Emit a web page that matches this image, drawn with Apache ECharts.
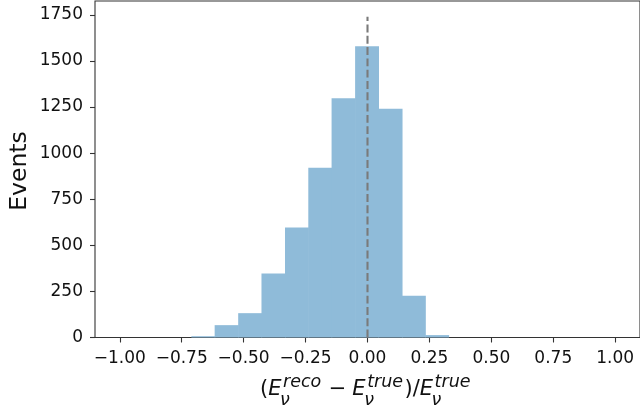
<!DOCTYPE html>
<html>
<head>
<meta charset="utf-8">
<script src="https://cdn.jsdelivr.net/npm/echarts@6/dist/echarts.min.js"></script>
<style>
html,body{margin:0;padding:0;background:#fff;}
#chart{width:640px;height:415px;}
</style>
</head>
<body>
<div id="chart"></div>
<script>
// ---- data ----
const binStarts = [-0.711, -0.617, -0.522, -0.428, -0.333, -0.239, -0.145, -0.050, 0.044, 0.139, 0.233];
const binEnds   = [-0.617, -0.522, -0.428, -0.333, -0.239, -0.145, -0.050, 0.044, 0.139, 0.233, 0.327];
const counts    = [7, 67, 132, 347, 596, 921, 1297, 1580, 1241, 226, 13];
const refLineX  = [0, 0];
const refLineY  = [0, 1740];
const xTicks    = [-1.00, -0.75, -0.50, -0.25, 0.00, 0.25, 0.50, 0.75, 1.00];
const yTicks    = [0, 250, 500, 750, 1000, 1250, 1500, 1750];
const yLabel    = 'Events';

const FONT = '"DejaVu Sans", "Liberation Sans", sans-serif';
const chart = echarts.init(document.getElementById('chart'), null, {renderer: 'canvas'});

// measure helper for the math-style x label
const mctx = document.createElement('canvas').getContext('2d');
function tw(t, size, italic) {
  mctx.font = (italic ? 'italic ' : '') + size + 'px ' + FONT;
  return mctx.measureText(t).width;
}
const MAIN = 21, SCR = 17.5;
const pieces = [
  {t: '(', i: false},
  {t: 'E', i: true}, {sup: 'reco', sub: 'ν'},
  {gap: 6}, {t: '−', i: false}, {gap: 6},
  {t: 'E', i: true}, {sup: 'true', sub: 'ν'},
  {t: ')/', i: false},
  {t: 'E', i: true}, {sup: 'true', sub: 'ν'}
];
function layoutLabel() {
  let x = 0; const out = [];
  pieces.forEach(p => {
    if (p.gap) { x += p.gap; return; }
    if (p.t) {
      out.push({text: p.t, x: x, size: MAIN, i: p.i, kind: 'main'});
      x += tw(p.t, MAIN, p.i);
    } else {
      const ws = tw(p.sup, SCR, true) + 1.5, wb = tw(p.sub, SCR, true);
      out.push({text: p.sup, x: x + 1.5, size: SCR, i: true, kind: 'sup'});
      out.push({text: p.sub, x: x - 1.5, size: SCR, i: true, kind: 'sub'});
      x += Math.max(ws, wb) + 1.5;
    }
  });
  return {items: out, width: x};
}
const lab = layoutLabel();
const cx = 368, baseMain = 395.5, baseSup = 387.5, baseSub = 405.5;
const startX = cx - lab.width / 2 - 2;
const graphics = lab.items.map(it => {
  const base = it.kind === 'main' ? baseMain : (it.kind === 'sup' ? baseSup : baseSub);
  return {
    type: 'text',
    x: startX + it.x,
    y: base - 0.3 * it.size,
    silent: true,
    style: {
      text: it.text,
      font: (it.i ? 'italic ' : '') + it.size + 'px ' + FONT,
      fill: '#111',
      align: 'left',
      verticalAlign: 'middle'
    }
  };
});
graphics.push({
  type: 'text',
  x: 19.5, y: 171,
  rotation: Math.PI / 2,
  silent: true,
  style: {
    text: yLabel,
    font: '23.5px ' + FONT,
    fill: '#111',
    align: 'center',
    verticalAlign: 'middle'
  }
});

const histData = binStarts.map((s, i) => [s, binEnds[i], counts[i]]);
const refData = refLineX.map((x, i) => [x, refLineY[i]]);

const fmtX = v => {
  const s = Math.abs(v) < 1e-9 ? '0.00' : v.toFixed(2);
  return s.replace('-', '−');
};

chart.setOption({
  animation: false,
  backgroundColor: '#fff',
  grid: {
    left: 95, right: -2.4, top: 1, bottom: 77.5,
    show: true, borderColor: '#333', borderWidth: 1.1, backgroundColor: 'transparent'
  },
  xAxis: {
    type: 'value', min: -1.1, max: 1.1,
    axisLine: {show: false, onZero: false},
    splitLine: {show: false},
    axisTick: {show: true, inside: false, length: 5, lineStyle: {color: '#333', width: 1.1}, customValues: xTicks},
    axisLabel: {show: true, margin: 13, fontSize: 17, fontFamily: FONT, color: '#111', formatter: fmtX, customValues: xTicks}
  },
  yAxis: {
    type: 'value', min: 0, max: 1825,
    axisLine: {show: false, onZero: false},
    splitLine: {show: false},
    axisTick: {show: true, inside: false, length: 5, lineStyle: {color: '#333', width: 1.1}, customValues: yTicks},
    axisLabel: {show: true, margin: 12, fontSize: 17, fontFamily: FONT, color: '#111', formatter: v => String(v), customValues: yTicks}
  },
  series: [
    {
      type: 'custom',
      data: histData,
      encode: {x: [0, 1], y: 2},
      renderItem: function (params, api) {
        const p0 = api.coord([api.value(0), api.value(2)]);
        const p1 = api.coord([api.value(1), 0]);
        return {
          type: 'rect',
          shape: {x: p0[0], y: p0[1], width: p1[0] - p0[0] + 0.6, height: p1[1] - p0[1]},
          style: {fill: '#8fbbd9'}
        };
      },
      z: 2
    },
    {
      type: 'line',
      data: refData,
      symbol: 'none',
      lineStyle: {color: '#7a7a7a', width: 2.1, type: [7.9, 3.4]},
      z: 3
    }
  ],
  graphic: graphics
});
</script>
</body>
</html>
